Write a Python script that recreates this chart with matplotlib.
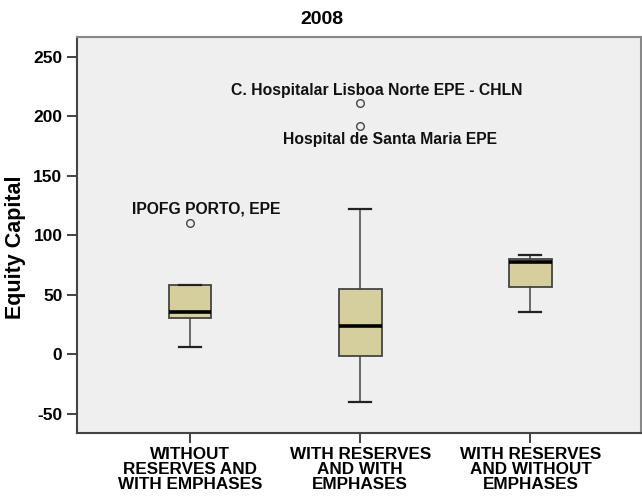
import matplotlib.pyplot as plt

plt.rcParams['font.family'] = ['Liberation Sans', 'DejaVu Sans']
plt.rcParams['axes.unicode_minus'] = False

# Data
categories = ["WITHOUT\nRESERVES AND\nWITH EMPHASES",
              "WITH RESERVES\nAND WITH\nEMPHASES",
              "WITH RESERVES\nAND WITHOUT\nEMPHASES"]
whisker_low = [6.3, -40.0, 35.7]
q1 = [30.7, -1.5, 56.7]
median = [36.0, 24.2, 77.7]
q3 = [58.4, 54.8, 80.5]
whisker_high = [58.4, 122.0, 83.6]
outliers = [[110.5], [211.0, 192.3], []]
outlier_names = [["IPOFG PORTO, EPE"],
                 ["C. Hospitalar Lisboa Norte EPE - CHLN", "Hospital de Santa Maria EPE"],
                 []]
# label offsets in points relative to each outlier
label_offsets = [[(11.5, 10)], [(11.5, 9.4), (21.6, -10)], []]

stats = []
for i in range(len(categories)):
    stats.append({'whislo': whisker_low[i], 'q1': q1[i], 'med': median[i],
                  'q3': q3[i], 'whishi': whisker_high[i], 'fliers': outliers[i]})

fig = plt.figure(figsize=(6.42, 4.97), dpi=100)
ax = fig.add_axes([0.12, 0.1288, 0.8784, 0.7968])
ax.set_facecolor('#efefef')

positions = [1, 2, 3]
ax.bxp(stats, positions=positions, widths=0.25, patch_artist=True,
       boxprops=dict(facecolor='#d4cf9d', edgecolor='#444444', linewidth=1.3),
       medianprops=dict(color='black', linewidth=2.6),
       whiskerprops=dict(color='#444444', linewidth=1.1),
       capprops=dict(color='#222222', linewidth=1.6),
       capwidths=0.13,
       flierprops=dict(marker='o', markerfacecolor='none', markeredgecolor='#444444',
                       markersize=5.5, markeredgewidth=1.0))

for i, pos in enumerate(positions):
    for val, name, off in zip(outliers[i], outlier_names[i], label_offsets[i]):
        ax.annotate(name, (pos, val), xytext=off, textcoords='offset points',
                    ha='center', va='center', fontsize=11.3, fontweight='bold',
                    color='#111111')

ax.set_xlim(0.335, 3.65)
ax.set_ylim(-66, 266.8)
ax.set_yticks([-50, 0, 50, 100, 150, 200, 250])
ax.set_xticks(positions)
ax.set_xticklabels(categories, fontsize=12.3, fontweight='bold', linespacing=1.0)
ax.tick_params(axis='y', labelsize=12.5, length=7, width=1.3, color='#333333')
ax.tick_params(axis='x', length=7, width=1.3, color='#333333', pad=3)
for lab in ax.get_yticklabels():
    lab.set_fontweight('bold')

for side in ['left', 'bottom']:
    ax.spines[side].set_color('#444444')
    ax.spines[side].set_linewidth(1.5)
for side in ['top', 'right']:
    ax.spines[side].set_color('#888888')
    ax.spines[side].set_linewidth(1.5)

ax.set_ylabel('Equity Capital', fontsize=15.5, fontweight='bold')
ax.yaxis.set_label_coords(-0.09, 0.47)
fig.text(322 / 642, 1 - 20 / 497, '2008', ha='center', va='center',
         fontsize=14, fontweight='bold')

fig.savefig('out.png', dpi=100, facecolor='white')
